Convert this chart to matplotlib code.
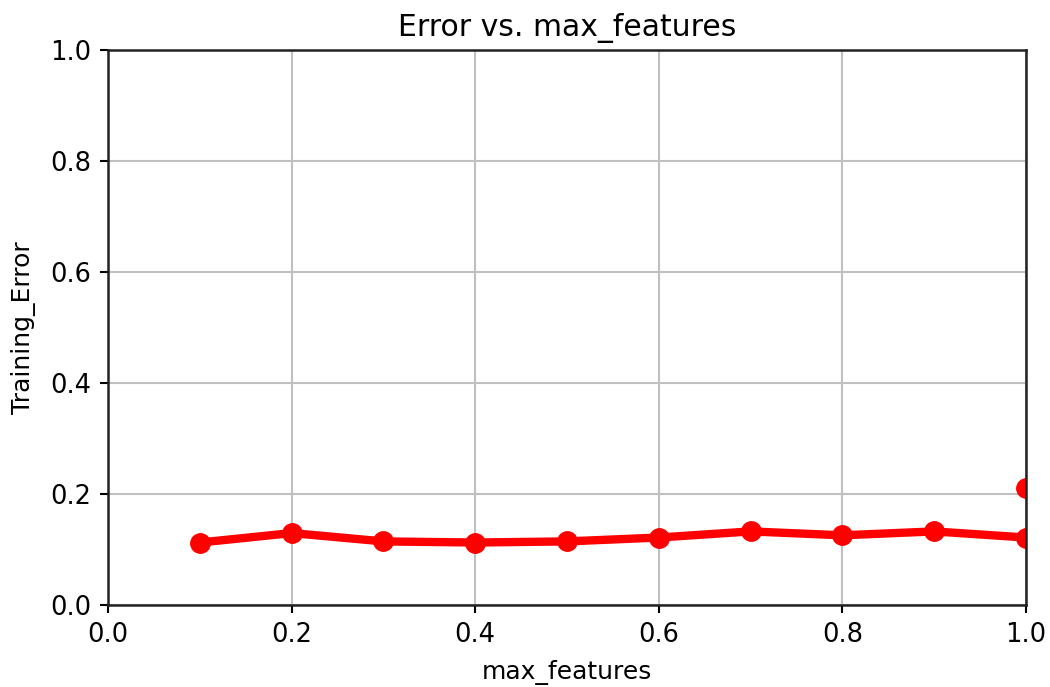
import matplotlib
matplotlib.use('Agg')
import matplotlib.pyplot as plt

# values
max_features = [0.1, 0.2, 0.3, 0.4, 0.5, 0.6, 0.7, 0.8, 0.9, 1.0]
train_error = [0.113, 0.130, 0.115, 0.113, 0.115, 0.122, 0.133, 0.126, 0.133, 0.122]
extra_x = [1.0]
extra_err = [0.211]

plt.rcParams['font.size'] = 18.5

fig = plt.figure(figsize=(10.5, 6.87), dpi=100)
ax = fig.add_axes([0.103, 0.119, 0.874, 0.808])

ax.plot(max_features, train_error, color='red', lw=6, marker='o', ms=14)
ax.plot(extra_x, extra_err, color='red', lw=0, marker='o', ms=14)

ax.set_xlim(0, 1)
ax.set_ylim(0, 1)
ax.grid(True, color='#c0c0c0', lw=1.5)
ax.set_title('Error vs. max_features', fontsize=21.5, pad=10)
ax.set_xlabel('max_features', fontsize=18, labelpad=9)
ax.set_ylabel('Training_Error', fontsize=18, labelpad=10)
for s in ax.spines.values():
    s.set_linewidth(1.8)
    s.set_color('#222222')
ax.tick_params(width=1.5, length=6, pad=6)

fig.savefig('out.png', dpi=100)
